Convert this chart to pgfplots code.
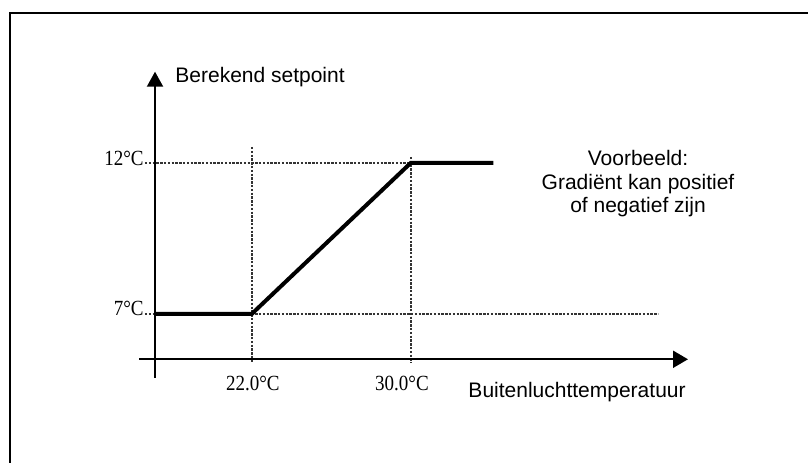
\documentclass[border=0pt]{standalone}
\usepackage{pgfplots}
\pgfplotsset{compat=1.18}
\usetikzlibrary{arrows.meta}
\usepackage{fontspec}
\setmainfont{Liberation Serif}
\newfontfamily\arial{Liberation Sans}
\newfontfamily\condserif[FakeStretch=0.88]{Liberation Serif}
\begin{document}
\begin{tikzpicture}
\begin{axis}[
  scale only axis, width=404pt, height=231.5pt,
  xmin=9.336, xmax=49.99, ymin=2.066, ymax=17.397,
  hide axis, clip=false,
]
% frame (left and top edges visible)
\draw[line width=1pt] (axis cs:9.814,2.066) -- (axis cs:9.814,16.957) -- (axis cs:49.99,16.957);
% dotted guide lines
\addplot[line width=0.9pt, black!80, dash pattern=on 1.2pt off 0.7pt] coordinates {(16.631,12) (30,12)};
\addplot[line width=0.9pt, black!80, dash pattern=on 1.2pt off 0.7pt] coordinates {(16.631,7) (42.443,7)};
\addplot[line width=0.9pt, black!80, dash pattern=on 1.2pt off 0.7pt] coordinates {(22,12.53) (22,5.394)};
\addplot[line width=0.9pt, black!80, dash pattern=on 1.2pt off 0.7pt] coordinates {(30,12.199) (30,5.394)};
% axes
\draw[line width=1pt, -{Triangle[width=8pt,length=7.5pt]}] (axis cs:17.135,4.891) -- (axis cs:17.135,15.023);
\draw[line width=1pt, -{Triangle[width=8.5pt,length=7.5pt]}] (axis cs:16.345,5.5) -- (axis cs:43.952,5.5);
% setpoint curve
\addplot[line width=2pt, black] coordinates {(17.135,7) (22,7) (30,12) (34.156,12)};
% labels
\node[anchor=base west, inner sep=0pt, font=\arial\fontsize{10.5}{12}\selectfont] at (axis cs:18.141,14.649) {Berekend setpoint};
\node[anchor=base, inner sep=0pt, font=\arial\fontsize{10.5}{12}\selectfont] at (axis cs:38.37,4.219) {Buitenluchttemperatuur};
\node[anchor=base, inner sep=0pt, font=\arial\fontsize{10.5}{12}\selectfont] at (axis cs:41.437,11.901) {Voorbeeld:};
\node[anchor=base, inner sep=0pt, font=\arial\fontsize{10.5}{12}\selectfont] at (axis cs:41.437,11.129) {Gradiënt kan positief};
\node[anchor=base, inner sep=0pt, font=\arial\fontsize{10.5}{12}\selectfont] at (axis cs:41.437,10.354) {of negatief zijn};
\node[anchor=base east, inner sep=0pt, font=\condserif\fontsize{10.8}{12}\selectfont] at (axis cs:16.58,11.90) {12°C};
\node[anchor=base east, inner sep=0pt, font=\condserif\fontsize{10.8}{12}\selectfont] at (axis cs:16.58,6.934) {7°C};
\node[anchor=base, inner sep=0pt, font=\condserif\fontsize{10.8}{12}\selectfont] at (axis cs:22.06,4.45) {22.0°C};
\node[anchor=base, inner sep=0pt, font=\condserif\fontsize{10.8}{12}\selectfont] at (axis cs:29.56,4.45) {30.0°C};
\end{axis}
\pgfresetboundingbox
\path[use as bounding box] (current axis.south west) rectangle (current axis.north east);
\end{tikzpicture}
\end{document}
